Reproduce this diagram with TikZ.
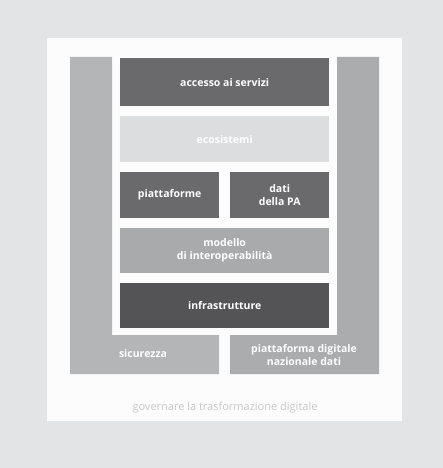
\documentclass[tikz,border=0pt]{standalone}
\usepackage{fontspec}
\setmainfont{Open Sans}
\definecolor{bgout}{HTML}{E3E4E6}
\definecolor{panel}{HTML}{FCFCFC}
\definecolor{cdark}{HTML}{6A6A6C}
\definecolor{clight}{HTML}{DCDDDF}
\definecolor{cmid}{HTML}{A9AAAC}
\definecolor{cdarkest}{HTML}{545456}
\definecolor{cside}{HTML}{B4B5B7}
\definecolor{cside2}{HTML}{ABACAE}
\definecolor{capt}{HTML}{C8C8C8}
\tikzset{
  layer/.style={fill=#1, draw=none, rectangle, inner sep=0pt, anchor=north west},
  lbl/.style={text=white, font=\fontsize{10.5}{13}\selectfont\bfseries, align=center, inner sep=0pt},
}
\begin{document}
\begin{tikzpicture}[x=1pt,y=-1pt]
\useasboundingbox (0,0) rectangle (443,468);
\fill[bgout] (0,0) rectangle (443,468);
\fill[panel] (47,38) rectangle (402,421);
% side L-shapes
\fill[cside] (70,57) -- (112,57) -- (112,335) -- (219,335) -- (219,374) -- (70,374) -- cycle;
\fill[cside2] (337,57) -- (379,57) -- (379,374) -- (230,374) -- (230,335) -- (337,335) -- cycle;
% layers
\node[layer=cdark, minimum width=209pt, minimum height=48pt] (acc) at (120,58) {};
\node[lbl] at (acc.center) {accesso ai servizi};
\node[layer=clight, minimum width=209pt, minimum height=46pt] (eco) at (120,116) {};
\node[lbl] at (eco.center) {ecosistemi};
\node[layer=cdark, minimum width=99pt, minimum height=46pt] (pia) at (120,172) {};
\node[lbl] at (pia.center) {piattaforme};
\node[layer=cdark, minimum width=99pt, minimum height=46pt] (dati) at (230,172) {};
\node[lbl] at (dati.center) {dati\\della PA};
\node[layer=cmid, minimum width=209pt, minimum height=45pt] (mod) at (120,228) {};
\node[lbl] at (mod.center) {modello\\di interoperabilità};
\node[layer=cdarkest, minimum width=209pt, minimum height=45pt] (inf) at (120,283) {};
\node[lbl] at (inf.center) {infrastrutture};
\node[lbl] (sic) at (143,354) {sicurezza};
\node[lbl] (pdnd) at (304,355) {piattaforma digitale\\nazionale dati};
\node[text=capt, font=\fontsize{11}{13}\selectfont, inner sep=0pt] (cap) at (225,408) {governare la trasformazione digitale};
\end{tikzpicture}
\end{document}
